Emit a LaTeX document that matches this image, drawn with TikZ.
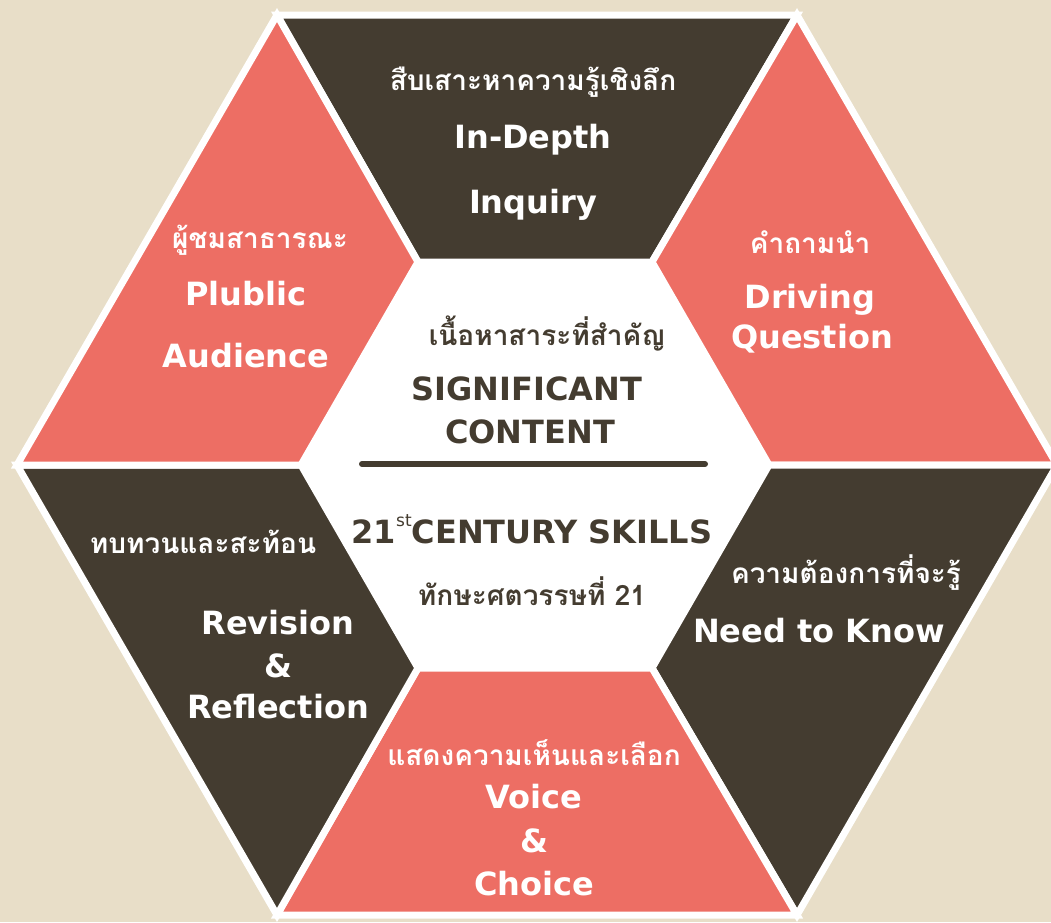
\documentclass[tikz,border=0pt]{standalone}
\usepackage{fontspec}
\setmainfont{DejaVu Sans}
\newfontfamily\thaifont[Script=Thai]{Loma}
\usetikzlibrary{positioning}
\definecolor{hexbeige}{RGB}{232,222,200}
\definecolor{hexdark}{RGB}{68,60,48}
\definecolor{hexpink}{RGB}{237,110,100}
\tikzset{
	region/.style = {draw=white, line width=7pt},
	darkreg/.style = {region, fill=hexdark},
	pinkreg/.style = {region, fill=hexpink},
	eng/.style = {text=white, inner sep=0pt, text height=20pt, text depth=6pt,
		font=\bfseries\fontsize{32pt}{32pt}\selectfont},
	thai/.style = {text=white, inner sep=0pt, text height=20pt, text depth=6pt,
		font=\thaifont\bfseries\fontsize{28pt}{28pt}\selectfont}
}

\begin{document}
\begin{tikzpicture}[x=1pt, y=-1pt]
	\useasboundingbox (0,0) rectangle (1051,922);
	\fill[hexbeige] (0,0) rectangle (1051,922);
	% outer hexagon
	\coordinate (o1) at (277,15);
	\coordinate (o2) at (797,15);
	\coordinate (o3) at (1057,465);
	\coordinate (o4) at (797,915);
	\coordinate (o5) at (277,915);
	\coordinate (o6) at (17,465);
	% inner hexagon
	\coordinate (i1) at (418,262);
	\coordinate (i2) at (652,262);
	\coordinate (i3) at (769,465);
	\coordinate (i4) at (652,668);
	\coordinate (i5) at (418,668);
	\coordinate (i6) at (301,465);
	\filldraw[darkreg] (o1) -- (o2) -- (i2) -- (i1) -- cycle;
	\filldraw[pinkreg] (o2) -- (o3) -- (i3) -- (i2) -- cycle;
	\filldraw[darkreg] (o3) -- (o4) -- (i4) -- (i3) -- cycle;
	\filldraw[pinkreg] (o4) -- (o5) -- (i5) -- (i4) -- cycle;
	\filldraw[darkreg] (o5) -- (o6) -- (i6) -- (i5) -- cycle;
	\filldraw[pinkreg] (o6) -- (o1) -- (i1) -- (i6) -- cycle;
	\fill[white] (i1) -- (i2) -- (i3) -- (i4) -- (i5) -- (i6) -- cycle;

	% top
	\node[thai] (inqth) at (533,83) {สืบเสาะหาความรู้เชิงลึก};
	\node[eng, node distance=58pt, below of=inqth] (inq1) {In-Depth};
	\node[eng, node distance=65pt, below of=inq1] (inq2) {Inquiry};
	% upper right
	\node[thai] (drvth) at (810,246) {คำถามนำ};
	\node[eng, node distance=55pt, below of=drvth] (drv1) {Driving};
	\node[eng, node distance=40pt, below of=drv1, xshift=2pt] (drv2) {Question};
	% upper left
	\node[thai] (audth) at (260,241) {ผู้ชมสาธารณะ};
	\node[eng, node distance=57pt, below of=audth, xshift=-14pt] (aud1) {Plublic};
	\node[eng, node distance=62pt, below of=aud1] (aud2) {Audience};
	% centre
	\node[thai, text=hexdark] (sigth) at (547,338) {เนื้อหาสาระที่สำคัญ};
	\node[eng, text=hexdark, node distance=55pt, below of=sigth, xshift=-20pt] (sig1) {SIGNIFICANT};
	\node[eng, text=hexdark, node distance=43pt, below of=sig1, xshift=3pt] (sig2) {CONTENT};
	\coordinate (rulel) at (362,464);
	\coordinate (ruler) at (705,464);
	\draw[hexdark, line width=6pt, line cap=round] (rulel) -- (ruler);
	\node[eng, text=hexdark] (skl1) at (532,536)
		{21\raisebox{17pt}{\mdseries\fontsize{17pt}{17pt}\selectfont st}CENTURY SKILLS};
	\node[thai, text=hexdark, node distance=62pt, below of=skl1] (sklth) {ทักษะศตวรรษที่ 21};
	% lower left
	\node[thai] (revth) at (203,546) {ทบทวนและสะท้อน};
	\node[eng, node distance=81pt, below of=revth, xshift=75pt] (rev1) {Revision};
	\node[eng, node distance=43pt, below of=rev1] (rev2) {\&};
	\node[eng, node distance=41pt, below of=rev2] (rev3) {Reflection};
	% lower right
	\node[thai] (ntkth) at (846,576) {ความต้องการที่จะรู้};
	\node[eng, node distance=59pt, below of=ntkth, xshift=-27pt] (ntk1) {Need to Know};
	% bottom
	\node[thai] (vocth) at (534,758) {แสดงความเห็นและเลือก};
	\node[eng, node distance=43pt, below of=vocth] (voc1) {Voice};
	\node[eng, node distance=44pt, below of=voc1] (voc2) {\&};
	\node[eng, node distance=43pt, below of=voc2] (voc3) {Choice};
\end{tikzpicture}
\end{document}
